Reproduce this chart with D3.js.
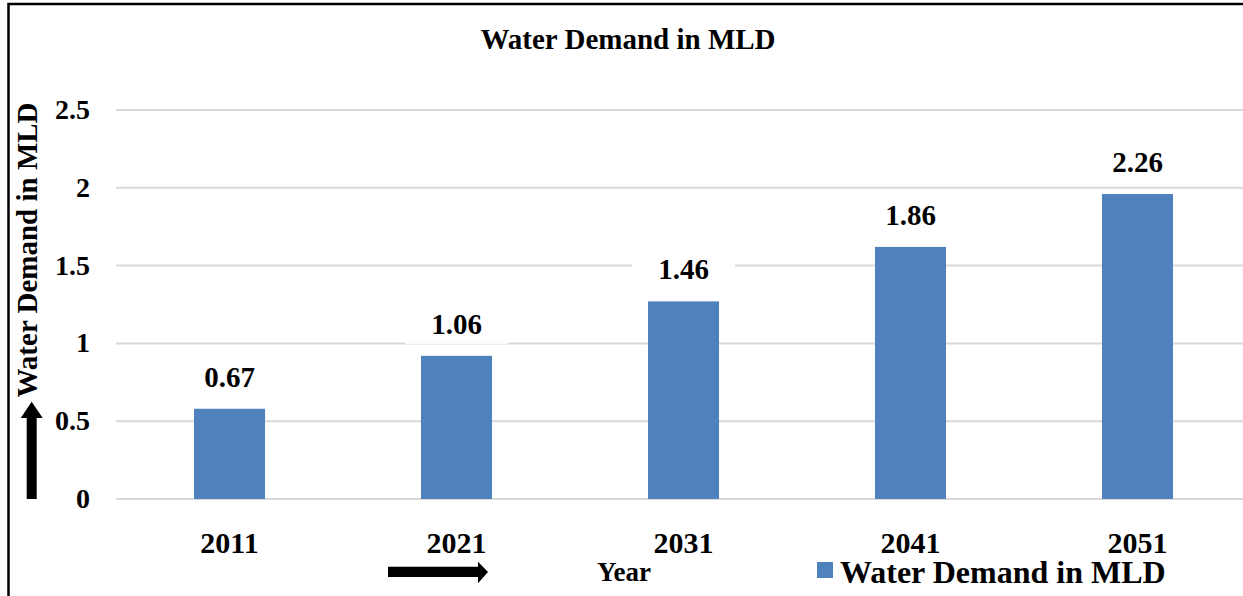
<!DOCTYPE html>
<head>
<meta charset="utf-8">
<style>
body { margin: 0; background: #fff; }
svg { display: block; }
text { font-family: "Liberation Serif", "Times New Roman", serif; font-weight: bold; fill: #000; }
.grid line { stroke: #d9d9d9; stroke-width: 2px; }
</style>
</head>
<body>
<svg width="1243" height="596"></svg>
<script src="https://d3js.org/d3.v7.min.js"></script>
<script>
// chart data
var years = ["2011", "2021", "2031", "2041", "2051"];
var barValues = [0.58, 0.92, 1.27, 1.62, 1.96];   // bar heights as drawn
var labelValues = ["0.67", "1.06", "1.46", "1.86", "2.26"]; // printed labels
var yTicks = [0, 0.5, 1, 1.5, 2, 2.5];
var seriesName = "Water Demand in MLD";

var svg = d3.select("svg");
var plotLeft = 116, plotRight = 1251, plotTop = 110, plotBottom = 499;

// outer frame (cut off on right and bottom)
svg.append("rect")
    .attr("x", 8.5).attr("y", 4)
    .attr("width", 1300).attr("height", 700)
    .attr("fill", "none").attr("stroke", "#000").attr("stroke-width", 2.5);

var x = d3.scaleBand().domain(years).range([plotLeft, plotRight]).paddingInner(0.687).paddingOuter(0.3435);
var y = d3.scaleLinear().domain([0, 2.5]).range([plotBottom, plotTop]);

// gridlines
svg.append("g").attr("class", "grid")
  .selectAll("line").data(yTicks).enter().append("line")
    .attr("x1", plotLeft).attr("x2", 1243)
    .attr("y1", function(d) { return y(d); })
    .attr("y2", function(d) { return y(d); });

// y tick labels
svg.selectAll(".ytick").data(yTicks).enter().append("text")
    .attr("class", "ytick")
    .attr("x", 90).attr("y", function(d) { return y(d) + 9; })
    .attr("text-anchor", "end")
    .style("font-size", "28px")
    .text(function(d) { return d; });

// bars
svg.selectAll(".bar").data(years).enter().append("rect")
    .attr("class", "bar")
    .attr("x", function(d) { return x(d); })
    .attr("width", x.bandwidth())
    .attr("y", function(d, i) { return y(barValues[i]); })
    .attr("height", function(d, i) { return y(0) - y(barValues[i]); })
    .attr("fill", "#4f81bd");

// data labels with white boxes
var lab = svg.selectAll(".dlab").data(years).enter().append("g").attr("class", "dlab");
lab.append("rect").attr("fill", "#fff");
lab.append("text")
    .attr("x", function(d) { return x(d) + x.bandwidth() / 2; })
    .attr("y", function(d, i) { return y(barValues[i]) - 22; })
    .attr("text-anchor", "middle")
    .style("font-size", "29px")
    .text(function(d, i) { return labelValues[i]; });
lab.each(function() {
  var g = d3.select(this), b = g.select("text").node().getBBox();
  g.select("rect").attr("x", b.x - 26).attr("y", b.y - 4)
    .attr("width", b.width + 52).attr("height", b.height + 8);
});

// x category labels
svg.selectAll(".xtick").data(years).enter().append("text")
    .attr("class", "xtick")
    .attr("x", function(d) { return x(d) + x.bandwidth() / 2; })
    .attr("y", 553)
    .attr("text-anchor", "middle")
    .style("font-size", "30px")
    .text(function(d) { return d; });

// title
svg.append("text")
    .attr("x", 628).attr("y", 49)
    .attr("text-anchor", "middle")
    .style("font-size", "29px")
    .text("Water Demand in MLD");

// y axis title + arrow
svg.append("text")
    .attr("transform", "translate(37,250) rotate(-90)")
    .attr("text-anchor", "middle")
    .style("font-size", "29px")
    .text("Water Demand in MLD");
svg.append("path")
    .attr("d", "M26.7,499 L36.7,499 L36.7,418 L42.7,418 L31.7,401.7 L20.7,418 L26.7,418 Z")
    .attr("fill", "#000");

// x axis title + arrow
svg.append("text")
    .attr("x", 624).attr("y", 581)
    .attr("text-anchor", "middle")
    .style("font-size", "27px")
    .text("Year");
svg.append("path")
    .attr("d", "M388,566.7 L478,566.7 L478,561.7 L488,572 L478,583.3 L478,577 L388,577 Z")
    .attr("fill", "#000");

// legend
svg.append("rect")
    .attr("x", 817).attr("y", 562).attr("width", 16).attr("height", 16)
    .attr("fill", "#4f81bd");
svg.append("text")
    .attr("x", 840).attr("y", 583)
    .style("font-size", "32px")
    .text(seriesName);
</script>
</body>
